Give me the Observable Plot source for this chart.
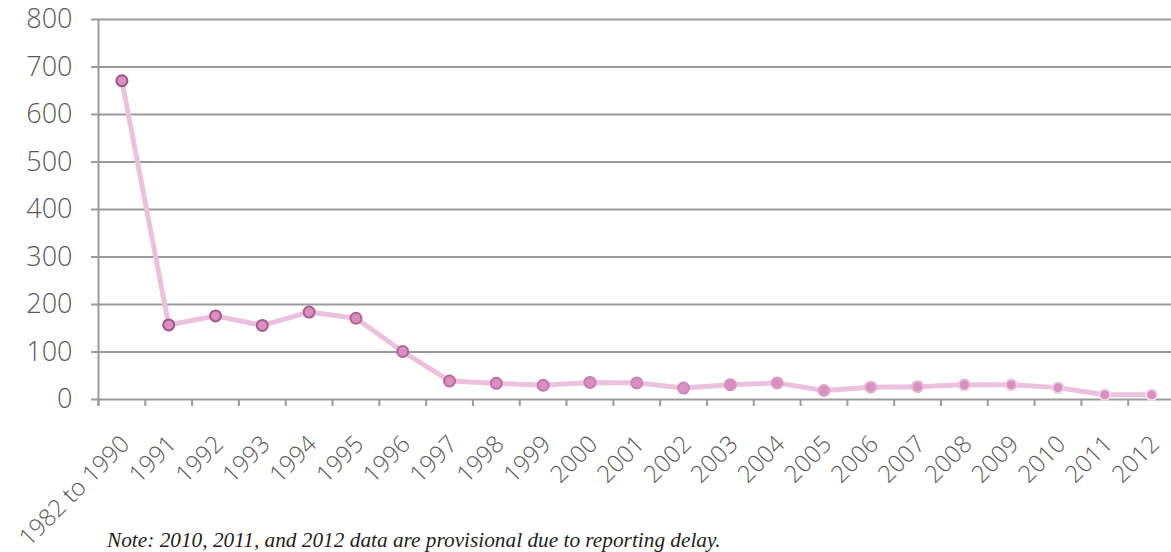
<!DOCTYPE html>
<html>
<head>
<meta charset="utf-8">
<script src="https://cdn.jsdelivr.net/npm/d3@7"></script>
<script src="https://cdn.jsdelivr.net/npm/@observablehq/plot@0.6"></script>
<style>
  html, body { margin: 0; padding: 0; background: #fff; }
  #wrap { position: relative; width: 1171px; height: 552px; overflow: hidden; }
  #note { position: absolute; left: 107px; top: 528px; font-family: "Liberation Serif", "Times New Roman", serif; font-style: italic; font-size: 21.3px; color: #231f20; white-space: nowrap; }
</style>
</head>
<body>
<div id="wrap"><div id="note">Note: 2010, 2011, and 2012 data are provisional due to reporting delay.</div></div>
<script>
const categories = ["1982 to 1990", "1991", "1992", "1993", "1994", "1995", "1996", "1997", "1998", "1999", "2000", "2001", "2002", "2003", "2004", "2005", "2006", "2007", "2008", "2009", "2010", "2011", "2012"];
const values = [671, 157, 176, 156, 184, 171, 101, 39, 34, 30, 36, 35, 24, 31, 35, 19, 26, 27, 31, 31, 25, 10, 10];
const yTicks = [0, 100, 200, 300, 400, 500, 600, 700, 800];

const data = categories.map((c, i) => ({cat: c, idx: i + 0.5, value: values[i]}));
const strokeRamp = d3.scaleLinear()
  .domain([0, 7, 13, 19, 22])
  .range(["#9e5088", "#b9679f", "#d88fbf", "#edcde2", "#f3dcea"]);

const gridColor = "#9b9b9b";
const chart = Plot.plot({
  width: 1171,
  height: 552,
  marginTop: 19,
  marginBottom: 153,
  marginLeft: 98,
  marginRight: 0,
  style: {background: "transparent", overflow: "visible"},
  x: {type: "linear", domain: [0, categories.length], range: [98, 1174.5]},
  y: {domain: [0, 800], range: [399, 19]},
  marks: [
    Plot.ruleY(yTicks, {stroke: gridColor, strokeWidth: 2, strokeOpacity: 1}),
    Plot.ruleX([0], {stroke: gridColor, strokeWidth: 2, insetBottom: -7}),
    Plot.axisY({ticks: yTicks, tickSize: 7, tickPadding: 19, stroke: gridColor, strokeWidth: 2, strokeOpacity: 1,
      fontSize: 27, fill: "#595959", fontFamily: "Open Sans", fontWeight: 300, label: null}),
    Plot.axisX({ticks: d3.range(categories.length + 1), tickSize: 7, tickFormat: () => "", stroke: gridColor, strokeWidth: 2, strokeOpacity: 1, label: null}),
    Plot.text(data, {x: "idx", frameAnchor: "bottom", text: "cat", rotate: -45, textAnchor: "end", lineAnchor: "top",
      dx: -3, dy: 34, fontSize: 24, fill: "#595959", fontFamily: "Open Sans", fontWeight: 300}),
    Plot.line(data, {x: "idx", y: "value", stroke: "#ebc1dd", strokeWidth: 5, curve: "linear"}),
    Plot.dot(data, {x: "idx", y: "value", r: 5.5, fill: "#d98fc0", fillOpacity: 1,
      stroke: (d, i) => strokeRamp(i), strokeWidth: 2})
  ]
});
document.getElementById("wrap").prepend(chart);
chart.style.position = "absolute";
chart.style.left = "0";
chart.style.top = "0";
</script>
</body>
</html>
